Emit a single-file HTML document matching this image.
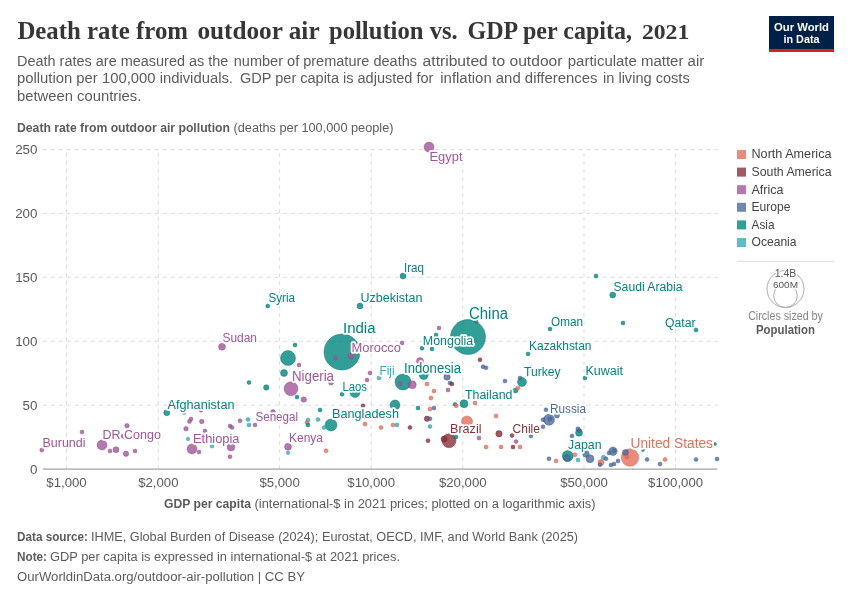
<!DOCTYPE html><html><head><meta charset="utf-8"><title>Death rate from outdoor air pollution vs. GDP per capita</title>
<style>html,body{margin:0;padding:0;background:#fff}svg{display:block;will-change:transform;-webkit-font-smoothing:antialiased}text{font-family:"Liberation Sans",sans-serif}.ser{font-family:"Liberation Serif",serif}</style></head><body>
<svg width="850" height="600" viewBox="0 0 850 600">
<rect width="850" height="600" fill="#fff"/>
<text class="ser" x="17.4" y="39.3" font-size="26" font-weight="700" fill="#363636" textLength="170.6" lengthAdjust="spacingAndGlyphs">Death rate from</text>
<text class="ser" x="197.4" y="39.3" font-size="26" font-weight="700" fill="#363636" textLength="122.2" lengthAdjust="spacingAndGlyphs">outdoor air</text>
<text class="ser" x="329" y="39.3" font-size="26" font-weight="700" fill="#363636" textLength="128.7" lengthAdjust="spacingAndGlyphs">pollution vs.</text>
<text class="ser" x="467.5" y="39.3" font-size="26" font-weight="700" fill="#363636" textLength="164.5" lengthAdjust="spacingAndGlyphs">GDP per capita,</text>
<text class="ser" x="641.9" y="39.3" font-size="20" font-weight="700" fill="#363636" textLength="47.4" lengthAdjust="spacingAndGlyphs">2021</text>
<text x="17" y="65.5" font-size="14" fill="#5b5b5b" textLength="211.4" lengthAdjust="spacingAndGlyphs">Death rates are measured as the</text>
<text x="233.8" y="65.5" font-size="14" fill="#5b5b5b" textLength="183.2" lengthAdjust="spacingAndGlyphs">number of premature deaths</text>
<text x="422.6" y="65.5" font-size="14" fill="#5b5b5b" textLength="139.9" lengthAdjust="spacingAndGlyphs">attributed to outdoor</text>
<text x="567.8" y="65.5" font-size="14" fill="#5b5b5b" textLength="136.4" lengthAdjust="spacingAndGlyphs">particulate matter air</text>
<text x="17" y="83" font-size="14" fill="#5b5b5b" textLength="216" lengthAdjust="spacingAndGlyphs">pollution per 100,000 individuals.</text>
<text x="240" y="83" font-size="14" fill="#5b5b5b" textLength="193.4" lengthAdjust="spacingAndGlyphs">GDP per capita is adjusted for</text>
<text x="440.3" y="83" font-size="14" fill="#5b5b5b" textLength="157.2" lengthAdjust="spacingAndGlyphs">inflation and differences</text>
<text x="603" y="83" font-size="14" fill="#5b5b5b" textLength="86.7" lengthAdjust="spacingAndGlyphs">in living costs</text>
<text x="17" y="100.5" font-size="14" fill="#5b5b5b" textLength="124.3" lengthAdjust="spacingAndGlyphs">between countries.</text>
<rect x="769" y="16" width="65" height="36" fill="#002147"/><rect x="769" y="49" width="65" height="3" fill="#ce261e"/>
<text x="801.5" y="30.6" font-size="11.5" font-weight="700" fill="#fff" text-anchor="middle" textLength="55" lengthAdjust="spacingAndGlyphs">Our World</text>
<text x="801.5" y="42.5" font-size="11.5" font-weight="700" fill="#fff" text-anchor="middle" textLength="36" lengthAdjust="spacingAndGlyphs">in Data</text>
<text x="17" y="131.8" font-size="12.5" fill="#5b5b5b"><tspan font-weight="700" textLength="213" lengthAdjust="spacingAndGlyphs">Death rate from outdoor air pollution</tspan><tspan dx="3.5" textLength="160" lengthAdjust="spacingAndGlyphs">(deaths per 100,000 people)</tspan></text>
<g stroke="#ddd" stroke-width="1" stroke-dasharray="4,4" fill="none">
<line x1="42.8" y1="149.5" x2="718" y2="149.5"/>
<line x1="42.8" y1="213.4" x2="718" y2="213.4"/>
<line x1="42.8" y1="277.3" x2="718" y2="277.3"/>
<line x1="42.8" y1="341.3" x2="718" y2="341.3"/>
<line x1="42.8" y1="405.2" x2="718" y2="405.2"/>
<line x1="66.5" y1="469.1" x2="66.5" y2="149.5"/>
<line x1="158.3" y1="469.1" x2="158.3" y2="149.5"/>
<line x1="279.6" y1="469.1" x2="279.6" y2="149.5"/>
<line x1="371.2" y1="469.1" x2="371.2" y2="149.5"/>
<line x1="462.8" y1="469.1" x2="462.8" y2="149.5"/>
<line x1="584" y1="469.1" x2="584" y2="149.5"/>
<line x1="675.6" y1="469.1" x2="675.6" y2="149.5"/>
</g>
<line x1="42.8" y1="469.1" x2="717.3" y2="469.1" stroke="#a3a3a3" stroke-width="1.2"/>
<text x="37.5" y="154.3" font-size="13.4" fill="#5b5b5b" text-anchor="end">250</text>
<text x="37.5" y="218.2" font-size="13.4" fill="#5b5b5b" text-anchor="end">200</text>
<text x="37.5" y="282.1" font-size="13.4" fill="#5b5b5b" text-anchor="end">150</text>
<text x="37.5" y="346.1" font-size="13.4" fill="#5b5b5b" text-anchor="end">100</text>
<text x="37.5" y="410.0" font-size="13.4" fill="#5b5b5b" text-anchor="end">50</text>
<text x="37.5" y="473.9" font-size="13.4" fill="#5b5b5b" text-anchor="end">0</text>
<text x="66.5" y="487.2" font-size="13.2" fill="#5b5b5b" text-anchor="middle">$1,000</text>
<text x="158.3" y="487.2" font-size="13.2" fill="#5b5b5b" text-anchor="middle">$2,000</text>
<text x="279.6" y="487.2" font-size="13.2" fill="#5b5b5b" text-anchor="middle">$5,000</text>
<text x="371.2" y="487.2" font-size="13.2" fill="#5b5b5b" text-anchor="middle">$10,000</text>
<text x="462.8" y="487.2" font-size="13.2" fill="#5b5b5b" text-anchor="middle">$20,000</text>
<text x="584" y="487.2" font-size="13.2" fill="#5b5b5b" text-anchor="middle">$50,000</text>
<text x="675.6" y="487.2" font-size="13.2" fill="#5b5b5b" text-anchor="middle">$100,000</text>
<text x="164" y="507.5" font-size="12.5" fill="#5b5b5b"><tspan font-weight="700" textLength="87" lengthAdjust="spacingAndGlyphs">GDP per capita</tspan><tspan dx="3.5" textLength="341" lengthAdjust="spacingAndGlyphs">(international-$ in 2021 prices; plotted on a logarithmic axis)</tspan></text>
<g stroke-width="0.6">
<circle cx="342" cy="352" r="18" fill="#00847E" fill-opacity="0.8" stroke="#006f6a" stroke-opacity="0.7"/>
<circle cx="468" cy="337" r="17.5" fill="#00847E" fill-opacity="0.8" stroke="#006f6a" stroke-opacity="0.7"/>
<circle cx="630" cy="457.5" r="8.75" fill="#E56E5A" fill-opacity="0.8" stroke="#c45a48" stroke-opacity="0.7"/>
<circle cx="403" cy="382" r="8" fill="#00847E" fill-opacity="0.8" stroke="#006f6a" stroke-opacity="0.7"/>
<circle cx="288" cy="358" r="7.5" fill="#00847E" fill-opacity="0.8" stroke="#006f6a" stroke-opacity="0.7"/>
<circle cx="291" cy="388.75" r="7" fill="#A2559C" fill-opacity="0.8" stroke="#8a4785" stroke-opacity="0.7"/>
<circle cx="449" cy="440.75" r="7" fill="#883039" fill-opacity="0.8" stroke="#6f252d" stroke-opacity="0.7"/>
<circle cx="331" cy="425" r="6" fill="#00847E" fill-opacity="0.8" stroke="#006f6a" stroke-opacity="0.7"/>
<circle cx="467" cy="421.5" r="5.5" fill="#E56E5A" fill-opacity="0.8" stroke="#c45a48" stroke-opacity="0.7"/>
<circle cx="549" cy="419.75" r="5.5" fill="#4C6A9C" fill-opacity="0.8" stroke="#3f5985" stroke-opacity="0.7"/>
<circle cx="567.75" cy="456" r="5.5" fill="#00847E" fill-opacity="0.8" stroke="#006f6a" stroke-opacity="0.7"/>
<circle cx="102" cy="445" r="5" fill="#A2559C" fill-opacity="0.8" stroke="#8a4785" stroke-opacity="0.7"/>
<circle cx="192" cy="449" r="5" fill="#A2559C" fill-opacity="0.8" stroke="#8a4785" stroke-opacity="0.7"/>
<circle cx="355" cy="392.5" r="5" fill="#00847E" fill-opacity="0.8" stroke="#006f6a" stroke-opacity="0.7"/>
<circle cx="395" cy="405" r="5" fill="#00847E" fill-opacity="0.8" stroke="#006f6a" stroke-opacity="0.7"/>
<circle cx="429" cy="147.1" r="5" fill="#A2559C" fill-opacity="0.8" stroke="#8a4785" stroke-opacity="0.7"/>
<circle cx="522" cy="382" r="4.5" fill="#00847E" fill-opacity="0.8" stroke="#006f6a" stroke-opacity="0.7"/>
<circle cx="423.75" cy="375" r="4.5" fill="#00847E" fill-opacity="0.8" stroke="#006f6a" stroke-opacity="0.7"/>
<circle cx="613" cy="451.25" r="4.2" fill="#4C6A9C" fill-opacity="0.8" stroke="#3f5985" stroke-opacity="0.7"/>
<circle cx="412.25" cy="384.75" r="4" fill="#A2559C" fill-opacity="0.8" stroke="#8a4785" stroke-opacity="0.7"/>
<circle cx="464" cy="403.75" r="4" fill="#00847E" fill-opacity="0.8" stroke="#006f6a" stroke-opacity="0.7"/>
<circle cx="590" cy="458.75" r="4" fill="#4C6A9C" fill-opacity="0.8" stroke="#3f5985" stroke-opacity="0.7"/>
<circle cx="231" cy="447" r="3.9" fill="#A2559C" fill-opacity="0.8" stroke="#8a4785" stroke-opacity="0.7"/>
<circle cx="288" cy="446.75" r="3.5" fill="#A2559C" fill-opacity="0.8" stroke="#8a4785" stroke-opacity="0.7"/>
<circle cx="579" cy="432.75" r="3.5" fill="#00847E" fill-opacity="0.8" stroke="#006f6a" stroke-opacity="0.7"/>
<circle cx="567" cy="458" r="3.5" fill="#4C6A9C" fill-opacity="0.8" stroke="#3f5985" stroke-opacity="0.7"/>
<circle cx="222" cy="346.75" r="3.5" fill="#A2559C" fill-opacity="0.8" stroke="#8a4785" stroke-opacity="0.7"/>
<circle cx="284" cy="373" r="3.5" fill="#00847E" fill-opacity="0.8" stroke="#006f6a" stroke-opacity="0.7"/>
<circle cx="420" cy="361" r="3.5" fill="#A2559C" fill-opacity="0.8" stroke="#8a4785" stroke-opacity="0.7"/>
<circle cx="586" cy="454" r="3.3" fill="#4C6A9C" fill-opacity="0.8" stroke="#3f5985" stroke-opacity="0.7"/>
<circle cx="499" cy="433.75" r="3.2" fill="#883039" fill-opacity="0.8" stroke="#6f252d" stroke-opacity="0.7"/>
<circle cx="447" cy="377" r="3.2" fill="#4C6A9C" fill-opacity="0.8" stroke="#3f5985" stroke-opacity="0.7"/>
<circle cx="116" cy="449.75" r="3" fill="#A2559C" fill-opacity="0.8" stroke="#8a4785" stroke-opacity="0.7"/>
<circle cx="166.75" cy="412.75" r="3" fill="#00847E" fill-opacity="0.8" stroke="#006f6a" stroke-opacity="0.7"/>
<circle cx="444" cy="439" r="3" fill="#883039" fill-opacity="0.8" stroke="#6f252d" stroke-opacity="0.7"/>
<circle cx="601" cy="462.5" r="3" fill="#E56E5A" fill-opacity="0.8" stroke="#c45a48" stroke-opacity="0.7"/>
<circle cx="625.5" cy="452.5" r="3" fill="#4C6A9C" fill-opacity="0.8" stroke="#3f5985" stroke-opacity="0.7"/>
<circle cx="360" cy="306" r="3" fill="#00847E" fill-opacity="0.8" stroke="#006f6a" stroke-opacity="0.7"/>
<circle cx="403" cy="276" r="3" fill="#00847E" fill-opacity="0.8" stroke="#006f6a" stroke-opacity="0.7"/>
<circle cx="351" cy="356" r="3" fill="#A2559C" fill-opacity="0.8" stroke="#8a4785" stroke-opacity="0.7"/>
<circle cx="612.75" cy="295" r="3" fill="#00847E" fill-opacity="0.8" stroke="#006f6a" stroke-opacity="0.7"/>
<circle cx="126" cy="453.75" r="2.7" fill="#A2559C" fill-opacity="0.8" stroke="#8a4785" stroke-opacity="0.7"/>
<circle cx="266.25" cy="387.5" r="2.7" fill="#00847E" fill-opacity="0.8" stroke="#006f6a" stroke-opacity="0.7"/>
<circle cx="303.75" cy="399.5" r="2.7" fill="#A2559C" fill-opacity="0.8" stroke="#8a4785" stroke-opacity="0.7"/>
<circle cx="427" cy="418.75" r="2.7" fill="#883039" fill-opacity="0.8" stroke="#6f252d" stroke-opacity="0.7"/>
<circle cx="331" cy="382.5" r="2.5" fill="#A2559C" fill-opacity="0.8" stroke="#8a4785" stroke-opacity="0.7"/>
<circle cx="515.5" cy="390.5" r="2.5" fill="#00847E" fill-opacity="0.8" stroke="#006f6a" stroke-opacity="0.7"/>
<circle cx="557" cy="415.6" r="2.5" fill="#4C6A9C" fill-opacity="0.8" stroke="#3f5985" stroke-opacity="0.7"/>
<circle cx="127" cy="425.75" r="2.3" fill="#A2559C" fill-opacity="0.8" stroke="#8a4785" stroke-opacity="0.7"/>
<circle cx="201.75" cy="421.5" r="2.3" fill="#A2559C" fill-opacity="0.8" stroke="#8a4785" stroke-opacity="0.7"/>
<circle cx="186" cy="428.75" r="2.3" fill="#A2559C" fill-opacity="0.8" stroke="#8a4785" stroke-opacity="0.7"/>
<circle cx="273" cy="411.75" r="2.3" fill="#A2559C" fill-opacity="0.8" stroke="#8a4785" stroke-opacity="0.7"/>
<circle cx="603.5" cy="457.5" r="2.3" fill="#38AABA" fill-opacity="0.8" stroke="#2c8f9d" stroke-opacity="0.7"/>
<circle cx="578" cy="429" r="2.2" fill="#4C6A9C" fill-opacity="0.8" stroke="#3f5985" stroke-opacity="0.7"/>
<circle cx="41.75" cy="450" r="2" fill="#A2559C" fill-opacity="0.8" stroke="#8a4785" stroke-opacity="0.7"/>
<circle cx="82" cy="432" r="2" fill="#A2559C" fill-opacity="0.8" stroke="#8a4785" stroke-opacity="0.7"/>
<circle cx="110" cy="451" r="2" fill="#A2559C" fill-opacity="0.8" stroke="#8a4785" stroke-opacity="0.7"/>
<circle cx="135" cy="451" r="2" fill="#A2559C" fill-opacity="0.8" stroke="#8a4785" stroke-opacity="0.7"/>
<circle cx="184" cy="412.5" r="2" fill="#A2559C" fill-opacity="0.8" stroke="#8a4785" stroke-opacity="0.7"/>
<circle cx="191" cy="419" r="2" fill="#A2559C" fill-opacity="0.8" stroke="#8a4785" stroke-opacity="0.7"/>
<circle cx="189.5" cy="421.5" r="2" fill="#A2559C" fill-opacity="0.8" stroke="#8a4785" stroke-opacity="0.7"/>
<circle cx="199" cy="452" r="2" fill="#A2559C" fill-opacity="0.8" stroke="#8a4785" stroke-opacity="0.7"/>
<circle cx="212" cy="446" r="2" fill="#38AABA" fill-opacity="0.8" stroke="#2c8f9d" stroke-opacity="0.7"/>
<circle cx="230" cy="426" r="2" fill="#A2559C" fill-opacity="0.8" stroke="#8a4785" stroke-opacity="0.7"/>
<circle cx="232" cy="427.5" r="2" fill="#A2559C" fill-opacity="0.8" stroke="#8a4785" stroke-opacity="0.7"/>
<circle cx="230" cy="456.75" r="2" fill="#A2559C" fill-opacity="0.8" stroke="#8a4785" stroke-opacity="0.7"/>
<circle cx="240" cy="420.75" r="2" fill="#A2559C" fill-opacity="0.8" stroke="#8a4785" stroke-opacity="0.7"/>
<circle cx="249" cy="382.5" r="2" fill="#00847E" fill-opacity="0.8" stroke="#006f6a" stroke-opacity="0.7"/>
<circle cx="297" cy="397" r="2" fill="#00847E" fill-opacity="0.8" stroke="#006f6a" stroke-opacity="0.7"/>
<circle cx="248" cy="419.5" r="2" fill="#38AABA" fill-opacity="0.8" stroke="#2c8f9d" stroke-opacity="0.7"/>
<circle cx="249" cy="425" r="2" fill="#38AABA" fill-opacity="0.8" stroke="#2c8f9d" stroke-opacity="0.7"/>
<circle cx="255" cy="425" r="2" fill="#A2559C" fill-opacity="0.8" stroke="#8a4785" stroke-opacity="0.7"/>
<circle cx="308" cy="420" r="2" fill="#38AABA" fill-opacity="0.8" stroke="#2c8f9d" stroke-opacity="0.7"/>
<circle cx="307" cy="422.5" r="2" fill="#E56E5A" fill-opacity="0.8" stroke="#c45a48" stroke-opacity="0.7"/>
<circle cx="308" cy="425" r="2" fill="#00847E" fill-opacity="0.8" stroke="#006f6a" stroke-opacity="0.7"/>
<circle cx="318" cy="419.5" r="2" fill="#38AABA" fill-opacity="0.8" stroke="#2c8f9d" stroke-opacity="0.7"/>
<circle cx="320" cy="410" r="2" fill="#00847E" fill-opacity="0.8" stroke="#006f6a" stroke-opacity="0.7"/>
<circle cx="324" cy="427.5" r="2" fill="#38AABA" fill-opacity="0.8" stroke="#2c8f9d" stroke-opacity="0.7"/>
<circle cx="326" cy="450.75" r="2" fill="#E56E5A" fill-opacity="0.8" stroke="#c45a48" stroke-opacity="0.7"/>
<circle cx="342" cy="394.25" r="2" fill="#00847E" fill-opacity="0.8" stroke="#006f6a" stroke-opacity="0.7"/>
<circle cx="367" cy="380" r="2" fill="#A2559C" fill-opacity="0.8" stroke="#8a4785" stroke-opacity="0.7"/>
<circle cx="363" cy="405.75" r="2" fill="#883039" fill-opacity="0.8" stroke="#6f252d" stroke-opacity="0.7"/>
<circle cx="365" cy="424" r="2" fill="#E56E5A" fill-opacity="0.8" stroke="#c45a48" stroke-opacity="0.7"/>
<circle cx="381" cy="427.5" r="2" fill="#E56E5A" fill-opacity="0.8" stroke="#c45a48" stroke-opacity="0.7"/>
<circle cx="393" cy="425" r="2" fill="#E56E5A" fill-opacity="0.8" stroke="#c45a48" stroke-opacity="0.7"/>
<circle cx="397" cy="425" r="2" fill="#38AABA" fill-opacity="0.8" stroke="#2c8f9d" stroke-opacity="0.7"/>
<circle cx="400" cy="383.75" r="2" fill="#A2559C" fill-opacity="0.8" stroke="#8a4785" stroke-opacity="0.7"/>
<circle cx="410" cy="427.5" r="2" fill="#883039" fill-opacity="0.8" stroke="#6f252d" stroke-opacity="0.7"/>
<circle cx="418" cy="408" r="2" fill="#00847E" fill-opacity="0.8" stroke="#006f6a" stroke-opacity="0.7"/>
<circle cx="427" cy="384" r="2" fill="#E56E5A" fill-opacity="0.8" stroke="#c45a48" stroke-opacity="0.7"/>
<circle cx="434" cy="391" r="2" fill="#E56E5A" fill-opacity="0.8" stroke="#c45a48" stroke-opacity="0.7"/>
<circle cx="431" cy="398" r="2" fill="#E56E5A" fill-opacity="0.8" stroke="#c45a48" stroke-opacity="0.7"/>
<circle cx="430" cy="409" r="2" fill="#E56E5A" fill-opacity="0.8" stroke="#c45a48" stroke-opacity="0.7"/>
<circle cx="434" cy="408" r="2" fill="#4C6A9C" fill-opacity="0.8" stroke="#3f5985" stroke-opacity="0.7"/>
<circle cx="430" cy="418.75" r="2" fill="#4C6A9C" fill-opacity="0.8" stroke="#3f5985" stroke-opacity="0.7"/>
<circle cx="430" cy="426.5" r="2" fill="#38AABA" fill-opacity="0.8" stroke="#2c8f9d" stroke-opacity="0.7"/>
<circle cx="428" cy="440.75" r="2" fill="#883039" fill-opacity="0.8" stroke="#6f252d" stroke-opacity="0.7"/>
<circle cx="450" cy="383" r="2" fill="#4C6A9C" fill-opacity="0.8" stroke="#3f5985" stroke-opacity="0.7"/>
<circle cx="452" cy="384" r="2" fill="#883039" fill-opacity="0.8" stroke="#6f252d" stroke-opacity="0.7"/>
<circle cx="448" cy="390" r="2" fill="#A2559C" fill-opacity="0.8" stroke="#8a4785" stroke-opacity="0.7"/>
<circle cx="455" cy="404.5" r="2" fill="#00847E" fill-opacity="0.8" stroke="#006f6a" stroke-opacity="0.7"/>
<circle cx="456.25" cy="405.75" r="2" fill="#E56E5A" fill-opacity="0.8" stroke="#c45a48" stroke-opacity="0.7"/>
<circle cx="475" cy="403" r="2" fill="#E56E5A" fill-opacity="0.8" stroke="#c45a48" stroke-opacity="0.7"/>
<circle cx="505" cy="381" r="2" fill="#4C6A9C" fill-opacity="0.8" stroke="#3f5985" stroke-opacity="0.7"/>
<circle cx="518" cy="388" r="2" fill="#E56E5A" fill-opacity="0.8" stroke="#c45a48" stroke-opacity="0.7"/>
<circle cx="520" cy="378" r="2" fill="#4C6A9C" fill-opacity="0.8" stroke="#3f5985" stroke-opacity="0.7"/>
<circle cx="496" cy="416" r="2" fill="#E56E5A" fill-opacity="0.8" stroke="#c45a48" stroke-opacity="0.7"/>
<circle cx="512" cy="435.5" r="2" fill="#883039" fill-opacity="0.8" stroke="#6f252d" stroke-opacity="0.7"/>
<circle cx="516" cy="441.5" r="2" fill="#A2559C" fill-opacity="0.8" stroke="#8a4785" stroke-opacity="0.7"/>
<circle cx="513" cy="447" r="2" fill="#883039" fill-opacity="0.8" stroke="#6f252d" stroke-opacity="0.7"/>
<circle cx="520" cy="447" r="2" fill="#E56E5A" fill-opacity="0.8" stroke="#c45a48" stroke-opacity="0.7"/>
<circle cx="501" cy="447" r="2" fill="#E56E5A" fill-opacity="0.8" stroke="#c45a48" stroke-opacity="0.7"/>
<circle cx="486" cy="447" r="2" fill="#E56E5A" fill-opacity="0.8" stroke="#c45a48" stroke-opacity="0.7"/>
<circle cx="479" cy="438" r="2" fill="#A2559C" fill-opacity="0.8" stroke="#8a4785" stroke-opacity="0.7"/>
<circle cx="456" cy="437" r="2" fill="#00847E" fill-opacity="0.8" stroke="#006f6a" stroke-opacity="0.7"/>
<circle cx="531" cy="436" r="2" fill="#4C6A9C" fill-opacity="0.8" stroke="#3f5985" stroke-opacity="0.7"/>
<circle cx="546" cy="409.75" r="2" fill="#4C6A9C" fill-opacity="0.8" stroke="#3f5985" stroke-opacity="0.7"/>
<circle cx="543" cy="419.75" r="2" fill="#4C6A9C" fill-opacity="0.8" stroke="#3f5985" stroke-opacity="0.7"/>
<circle cx="550" cy="419" r="2" fill="#4C6A9C" fill-opacity="0.8" stroke="#3f5985" stroke-opacity="0.7"/>
<circle cx="543" cy="426.75" r="2" fill="#4C6A9C" fill-opacity="0.8" stroke="#3f5985" stroke-opacity="0.7"/>
<circle cx="572" cy="436" r="2" fill="#4C6A9C" fill-opacity="0.8" stroke="#3f5985" stroke-opacity="0.7"/>
<circle cx="579.5" cy="430.5" r="2" fill="#4C6A9C" fill-opacity="0.8" stroke="#3f5985" stroke-opacity="0.7"/>
<circle cx="549" cy="458.75" r="2" fill="#4C6A9C" fill-opacity="0.8" stroke="#3f5985" stroke-opacity="0.7"/>
<circle cx="556" cy="461" r="2" fill="#E56E5A" fill-opacity="0.8" stroke="#c45a48" stroke-opacity="0.7"/>
<circle cx="575" cy="454.75" r="2" fill="#E56E5A" fill-opacity="0.8" stroke="#c45a48" stroke-opacity="0.7"/>
<circle cx="578" cy="460" r="2" fill="#38AABA" fill-opacity="0.8" stroke="#2c8f9d" stroke-opacity="0.7"/>
<circle cx="600" cy="464.75" r="2" fill="#4C6A9C" fill-opacity="0.8" stroke="#3f5985" stroke-opacity="0.7"/>
<circle cx="606" cy="458.75" r="2" fill="#4C6A9C" fill-opacity="0.8" stroke="#3f5985" stroke-opacity="0.7"/>
<circle cx="609" cy="453" r="2" fill="#4C6A9C" fill-opacity="0.8" stroke="#3f5985" stroke-opacity="0.7"/>
<circle cx="614" cy="450.75" r="2" fill="#4C6A9C" fill-opacity="0.8" stroke="#3f5985" stroke-opacity="0.7"/>
<circle cx="611" cy="465" r="2" fill="#4C6A9C" fill-opacity="0.8" stroke="#3f5985" stroke-opacity="0.7"/>
<circle cx="614" cy="464" r="2" fill="#4C6A9C" fill-opacity="0.8" stroke="#3f5985" stroke-opacity="0.7"/>
<circle cx="618" cy="460.9" r="2" fill="#4C6A9C" fill-opacity="0.8" stroke="#3f5985" stroke-opacity="0.7"/>
<circle cx="627" cy="456.9" r="2" fill="#E56E5A" fill-opacity="0.8" stroke="#c45a48" stroke-opacity="0.7"/>
<circle cx="647" cy="459.5" r="2" fill="#4C6A9C" fill-opacity="0.8" stroke="#3f5985" stroke-opacity="0.7"/>
<circle cx="660" cy="464" r="2" fill="#4C6A9C" fill-opacity="0.8" stroke="#3f5985" stroke-opacity="0.7"/>
<circle cx="665" cy="459.5" r="2" fill="#E56E5A" fill-opacity="0.8" stroke="#c45a48" stroke-opacity="0.7"/>
<circle cx="696" cy="459.5" r="2" fill="#4C6A9C" fill-opacity="0.8" stroke="#3f5985" stroke-opacity="0.7"/>
<circle cx="717" cy="459" r="2" fill="#4C6A9C" fill-opacity="0.8" stroke="#3f5985" stroke-opacity="0.7"/>
<circle cx="267.75" cy="306" r="2" fill="#00847E" fill-opacity="0.8" stroke="#006f6a" stroke-opacity="0.7"/>
<circle cx="335.75" cy="358" r="2" fill="#A2559C" fill-opacity="0.8" stroke="#8a4785" stroke-opacity="0.7"/>
<circle cx="295" cy="345" r="2" fill="#00847E" fill-opacity="0.8" stroke="#006f6a" stroke-opacity="0.7"/>
<circle cx="299" cy="365" r="2" fill="#A2559C" fill-opacity="0.8" stroke="#8a4785" stroke-opacity="0.7"/>
<circle cx="402" cy="343" r="2" fill="#A2559C" fill-opacity="0.8" stroke="#8a4785" stroke-opacity="0.7"/>
<circle cx="370" cy="373" r="2" fill="#A2559C" fill-opacity="0.8" stroke="#8a4785" stroke-opacity="0.7"/>
<circle cx="379" cy="378" r="2" fill="#38AABA" fill-opacity="0.8" stroke="#2c8f9d" stroke-opacity="0.7"/>
<circle cx="596" cy="276" r="2" fill="#00847E" fill-opacity="0.8" stroke="#006f6a" stroke-opacity="0.7"/>
<circle cx="123" cy="436.2" r="2" fill="#A2559C" fill-opacity="0.8" stroke="#8a4785" stroke-opacity="0.7"/>
<circle cx="205" cy="431" r="2" fill="#A2559C" fill-opacity="0.8" stroke="#8a4785" stroke-opacity="0.7"/>
<circle cx="439" cy="328" r="2" fill="#A2559C" fill-opacity="0.8" stroke="#8a4785" stroke-opacity="0.7"/>
<circle cx="436" cy="335" r="2" fill="#00847E" fill-opacity="0.8" stroke="#006f6a" stroke-opacity="0.7"/>
<circle cx="422" cy="348.25" r="2" fill="#00847E" fill-opacity="0.8" stroke="#006f6a" stroke-opacity="0.7"/>
<circle cx="432" cy="349" r="2" fill="#00847E" fill-opacity="0.8" stroke="#006f6a" stroke-opacity="0.7"/>
<circle cx="550" cy="329" r="2" fill="#00847E" fill-opacity="0.8" stroke="#006f6a" stroke-opacity="0.7"/>
<circle cx="528" cy="354" r="2" fill="#00847E" fill-opacity="0.8" stroke="#006f6a" stroke-opacity="0.7"/>
<circle cx="585" cy="378" r="2" fill="#00847E" fill-opacity="0.8" stroke="#006f6a" stroke-opacity="0.7"/>
<circle cx="480" cy="359.75" r="2" fill="#883039" fill-opacity="0.8" stroke="#6f252d" stroke-opacity="0.7"/>
<circle cx="483" cy="366.75" r="2" fill="#4C6A9C" fill-opacity="0.8" stroke="#3f5985" stroke-opacity="0.7"/>
<circle cx="486" cy="367.75" r="2" fill="#4C6A9C" fill-opacity="0.8" stroke="#3f5985" stroke-opacity="0.7"/>
<circle cx="623" cy="323" r="2" fill="#00847E" fill-opacity="0.8" stroke="#006f6a" stroke-opacity="0.7"/>
<circle cx="696" cy="330" r="2" fill="#00847E" fill-opacity="0.8" stroke="#006f6a" stroke-opacity="0.7"/>
<circle cx="188" cy="439" r="1.8" fill="#38AABA" fill-opacity="0.8" stroke="#2c8f9d" stroke-opacity="0.7"/>
<circle cx="288" cy="452.75" r="1.8" fill="#38AABA" fill-opacity="0.8" stroke="#2c8f9d" stroke-opacity="0.7"/>
<circle cx="476.25" cy="321.4" r="1.8" fill="#4C6A9C" fill-opacity="0.8" stroke="#3f5985" stroke-opacity="0.7"/>
<circle cx="201" cy="410.5" r="1.8" fill="#A2559C" fill-opacity="0.8" stroke="#8a4785" stroke-opacity="0.7"/>
<circle cx="643" cy="450" r="1.5" fill="#00847E" fill-opacity="0.8" stroke="#006f6a" stroke-opacity="0.7"/>
<circle cx="715" cy="444" r="1.5" fill="#00847E" fill-opacity="0.8" stroke="#006f6a" stroke-opacity="0.7"/>
</g>
<g stroke="#fff" stroke-width="3.6" stroke-linejoin="round" paint-order="stroke" style="paint-order:stroke">
<text x="42.5" y="447" font-size="12.5" fill="#A2559C" textLength="43" lengthAdjust="spacingAndGlyphs">Burundi</text>
<text x="102.5" y="438.7" font-size="13" fill="#A2559C" textLength="58.5" lengthAdjust="spacingAndGlyphs">DR Congo</text>
<text x="167.5" y="408.6" font-size="12.5" fill="#00847E" textLength="67" lengthAdjust="spacingAndGlyphs">Afghanistan</text>
<text x="193" y="442.5" font-size="12.5" fill="#A2559C" textLength="46.5" lengthAdjust="spacingAndGlyphs">Ethiopia</text>
<text x="255.5" y="421" font-size="12.5" fill="#A2559C" textLength="42.5" lengthAdjust="spacingAndGlyphs">Senegal</text>
<text x="289" y="442" font-size="12.5" fill="#A2559C" textLength="34" lengthAdjust="spacingAndGlyphs">Kenya</text>
<text x="342.5" y="391" font-size="12.5" fill="#00847E" textLength="24.5" lengthAdjust="spacingAndGlyphs">Laos</text>
<text x="332" y="417.6" font-size="13.5" fill="#00847E" textLength="67" lengthAdjust="spacingAndGlyphs">Bangladesh</text>
<text x="292" y="380.5" font-size="14" fill="#A2559C" textLength="42" lengthAdjust="spacingAndGlyphs">Nigeria</text>
<text x="465" y="398.5" font-size="12.5" fill="#00847E" textLength="47.5" lengthAdjust="spacingAndGlyphs">Thailand</text>
<text x="450" y="432.5" font-size="12.5" fill="#883039" textLength="31.5" lengthAdjust="spacingAndGlyphs">Brazil</text>
<text x="512.5" y="432.5" font-size="12.5" fill="#883039" textLength="27.5" lengthAdjust="spacingAndGlyphs">Chile</text>
<text x="550" y="412.5" font-size="13" fill="#4C6A9C" textLength="36" lengthAdjust="spacingAndGlyphs">Russia</text>
<text x="568" y="449" font-size="13" fill="#00847E" textLength="33.5" lengthAdjust="spacingAndGlyphs">Japan</text>
<text x="630.5" y="447.5" font-size="14" fill="#E56E5A" textLength="82.5" lengthAdjust="spacingAndGlyphs">United States</text>
<text x="268.5" y="302" font-size="12" fill="#00847E" textLength="26.5" lengthAdjust="spacingAndGlyphs">Syria</text>
<text x="222.5" y="342" font-size="12.5" fill="#A2559C" textLength="34.5" lengthAdjust="spacingAndGlyphs">Sudan</text>
<text x="360.5" y="302" font-size="12.5" fill="#00847E" textLength="62" lengthAdjust="spacingAndGlyphs">Uzbekistan</text>
<text x="343" y="332.5" font-size="15.5" fill="#00847E" textLength="32.5" lengthAdjust="spacingAndGlyphs">India</text>
<text x="351.5" y="351.7" font-size="13" fill="#A2559C" textLength="49.5" lengthAdjust="spacingAndGlyphs">Morocco</text>
<text x="379.5" y="374.5" font-size="12" fill="#38AABA" textLength="15" lengthAdjust="spacingAndGlyphs">Fiji</text>
<text x="404" y="372.5" font-size="14" fill="#00847E" textLength="57" lengthAdjust="spacingAndGlyphs">Indonesia</text>
<text x="404" y="271.5" font-size="12" fill="#00847E" textLength="20" lengthAdjust="spacingAndGlyphs">Iraq</text>
<text x="469" y="318.5" font-size="16" fill="#00847E" textLength="39" lengthAdjust="spacingAndGlyphs">China</text>
<text x="422.8" y="344.9" font-size="12.5" fill="#00847E" textLength="50.5" lengthAdjust="spacingAndGlyphs">Mongolia</text>
<text x="551" y="325.5" font-size="12.5" fill="#00847E" textLength="32" lengthAdjust="spacingAndGlyphs">Oman</text>
<text x="529" y="350" font-size="12.5" fill="#00847E" textLength="62.5" lengthAdjust="spacingAndGlyphs">Kazakhstan</text>
<text x="524" y="375.5" font-size="12.5" fill="#00847E" textLength="36.5" lengthAdjust="spacingAndGlyphs">Turkey</text>
<text x="585.5" y="374.5" font-size="12.5" fill="#00847E" textLength="37.5" lengthAdjust="spacingAndGlyphs">Kuwait</text>
<text x="613.5" y="290.5" font-size="12.5" fill="#00847E" textLength="69" lengthAdjust="spacingAndGlyphs">Saudi Arabia</text>
<text x="665" y="326.5" font-size="12.5" fill="#00847E" textLength="30.5" lengthAdjust="spacingAndGlyphs">Qatar</text>
<text x="429.5" y="160.5" font-size="12.5" fill="#A2559C" textLength="33" lengthAdjust="spacingAndGlyphs">Egypt</text>
</g>
<rect x="737" y="150.0" width="9" height="9" fill="#E56E5A" fill-opacity="0.8"/>
<text x="751.5" y="158.4" font-size="13" fill="#444" textLength="80" lengthAdjust="spacingAndGlyphs">North America</text>
<rect x="737" y="167.6" width="9" height="9" fill="#883039" fill-opacity="0.8"/>
<text x="751.5" y="176.0" font-size="13" fill="#444" textLength="80" lengthAdjust="spacingAndGlyphs">South America</text>
<rect x="737" y="185.2" width="9" height="9" fill="#A2559C" fill-opacity="0.8"/>
<text x="751.5" y="193.6" font-size="13" fill="#444" textLength="32" lengthAdjust="spacingAndGlyphs">Africa</text>
<rect x="737" y="202.8" width="9" height="9" fill="#4C6A9C" fill-opacity="0.8"/>
<text x="751.5" y="211.2" font-size="13" fill="#444" textLength="39" lengthAdjust="spacingAndGlyphs">Europe</text>
<rect x="737" y="220.4" width="9" height="9" fill="#00847E" fill-opacity="0.8"/>
<text x="751.5" y="228.8" font-size="13" fill="#444" textLength="23" lengthAdjust="spacingAndGlyphs">Asia</text>
<rect x="737" y="238.0" width="9" height="9" fill="#38AABA" fill-opacity="0.8"/>
<text x="751.5" y="246.4" font-size="13" fill="#444" textLength="45" lengthAdjust="spacingAndGlyphs">Oceania</text>
<line x1="737" y1="261.3" x2="834" y2="261.3" stroke="#ddd" stroke-width="1"/>
<circle cx="785.5" cy="289" r="18.5" fill="none" stroke="#999" stroke-width="0.8"/>
<circle cx="785.5" cy="295.7" r="11.8" fill="none" stroke="#999" stroke-width="0.8"/>
<g stroke="#fff" stroke-width="2.5" stroke-linejoin="round" style="paint-order:stroke" text-anchor="middle" fill="#555">
<text x="785.5" y="276.7" font-size="10" textLength="21.7" lengthAdjust="spacingAndGlyphs">1.4B</text>
<text x="785.5" y="288.3" font-size="8.5" textLength="25" lengthAdjust="spacingAndGlyphs">600M</text>
</g>
<text x="785.5" y="319.7" font-size="12" fill="#858585" text-anchor="middle" textLength="74.7" lengthAdjust="spacingAndGlyphs">Circles sized by</text>
<text x="785.5" y="333.7" font-size="12" font-weight="700" fill="#5b5b5b" text-anchor="middle" textLength="59" lengthAdjust="spacingAndGlyphs">Population</text>
<text x="17" y="540.5" font-size="12.5" fill="#5b5b5b"><tspan font-weight="700" textLength="71" lengthAdjust="spacingAndGlyphs">Data source:</tspan><tspan dx="3" textLength="487" lengthAdjust="spacingAndGlyphs">IHME, Global Burden of Disease (2024); Eurostat, OECD, IMF, and World Bank (2025)</tspan></text>
<text x="17" y="560.5" font-size="12.5" fill="#5b5b5b"><tspan font-weight="700" textLength="30" lengthAdjust="spacingAndGlyphs">Note:</tspan><tspan dx="3" textLength="350" lengthAdjust="spacingAndGlyphs">GDP per capita is expressed in international-$ at 2021 prices.</tspan></text>
<text x="17" y="580.5" font-size="12.5" fill="#5b5b5b" textLength="288" lengthAdjust="spacingAndGlyphs">OurWorldinData.org/outdoor-air-pollution | CC BY</text>
</svg></body></html>
